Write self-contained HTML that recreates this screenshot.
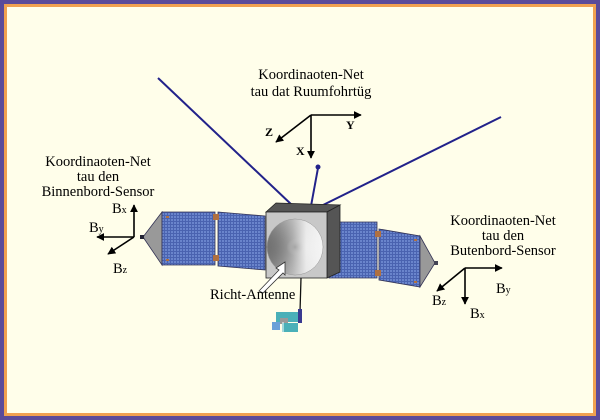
<!DOCTYPE html>
<html><head><style>
html,body{margin:0;padding:0;width:600px;height:420px;overflow:hidden;background:#fffeea}
</style></head><body>
<svg width="600" height="420" viewBox="0 0 600 420" xmlns="http://www.w3.org/2000/svg" font-family="Liberation Serif, serif" font-size="14.5" fill="#000">
<defs>
<marker id="a" viewBox="0 0 10 10" refX="9" refY="5" markerWidth="5" markerHeight="5" orient="auto"><path d="M0,0L10,5L0,10z" fill="#000"/></marker>
<pattern id="cells" width="3" height="3" patternUnits="userSpaceOnUse"><rect width="3" height="3" fill="#4a63b0"/><rect width="2" height="2" fill="#6a85cc"/></pattern>
<linearGradient id="dl" x1="0" y1="0.5" x2="1" y2="0.5"><stop offset="0" stop-color="#444"/><stop offset="0.45" stop-color="#aaa"/><stop offset="0.7" stop-color="#eee"/><stop offset="1" stop-color="#fff"/></linearGradient>
<radialGradient id="dg" cx="0.5" cy="0.5" r="0.5"><stop offset="0" stop-color="#999" stop-opacity="0.6"/><stop offset="0.3" stop-color="#ccc" stop-opacity="0"/><stop offset="1" stop-color="#ddd" stop-opacity="0.3"/></radialGradient>
</defs>
<rect x="0" y="0" width="600" height="420" fill="#5b4a9a"/>
<rect x="4" y="4" width="592" height="412" fill="#f0a050"/>
<rect x="7" y="7" width="586" height="406" fill="#fffeea"/>

<g stroke="#000" stroke-width="1.6" fill="none" marker-end="url(#a)">
<line x1="311" y1="115" x2="361" y2="115"/><line x1="311" y1="115" x2="311" y2="158"/><line x1="311" y1="115" x2="276" y2="142"/>
<line x1="134" y1="237" x2="134" y2="205"/><line x1="134" y1="237" x2="97" y2="237"/><line x1="134" y1="237" x2="108" y2="254"/>
<line x1="465" y1="268" x2="502" y2="268"/><line x1="465" y1="268" x2="465" y2="304"/><line x1="465" y1="268" x2="437" y2="291"/>
</g>
<g font-weight="bold" font-size="12"><text x="346" y="129">Y</text><text x="296" y="155">X</text><text x="265" y="136">Z</text></g>

<text x="311" y="79" text-anchor="middle">Koordinaoten-Net</text>
<text x="311" y="96" text-anchor="middle">tau dat Ruumfohrtüg</text>
<text x="98" y="166" text-anchor="middle">Koordinaoten-Net</text>
<text x="98" y="181" text-anchor="middle">tau den</text>
<text x="98" y="196" text-anchor="middle">Binnenbord-Sensor</text>
<text x="503" y="225" text-anchor="middle">Koordinaoten-Net</text>
<text x="503" y="240" text-anchor="middle">tau den</text>
<text x="503" y="255" text-anchor="middle">Butenbord-Sensor</text>
<text x="112" y="213">B<tspan font-size="10">x</tspan></text>
<text x="89" y="232">B<tspan font-size="10">y</tspan></text>
<text x="113" y="273">B<tspan font-size="10">z</tspan></text>
<text x="496" y="293">B<tspan font-size="10">y</tspan></text>
<text x="432" y="305">B<tspan font-size="10">z</tspan></text>
<text x="470" y="318">B<tspan font-size="10">x</tspan></text>

<g stroke="#22228a" stroke-width="2"><line x1="158" y1="78" x2="293" y2="206"/><line x1="501" y1="117" x2="317" y2="208"/><line x1="318" y1="168" x2="311" y2="206"/></g>
<circle cx="318" cy="167" r="2.5" fill="#22228a"/>

<polygon points="162,212 143,237 162,265" fill="#999" stroke="#335" stroke-width="0.8"/>
<rect x="140" y="235" width="4" height="4" fill="#223"/>
<polygon points="162,212 215,212 215,265 162,265" fill="url(#cells)" stroke="#335" stroke-width="0.8"/>
<polygon points="218,212 265,216 265,270 218,266" fill="url(#cells)" stroke="#335" stroke-width="0.8"/>
<g fill="#b07040"><rect x="213" y="214" width="6" height="6"/><rect x="213" y="255" width="6" height="6"/><rect x="166" y="216" width="3" height="2"/><rect x="166" y="259" width="3" height="2"/></g>
<polygon points="329,222 377,222 377,278 329,278" fill="url(#cells)" stroke="#335" stroke-width="0.8"/>
<polygon points="379,229 420,236 420,287 379,280" fill="url(#cells)" stroke="#335" stroke-width="0.8"/>
<polygon points="420,236 435,263 420,287" fill="#999" stroke="#335" stroke-width="0.8"/>
<rect x="434" y="261" width="4" height="4" fill="#445"/>
<g fill="#b07040"><rect x="375" y="231" width="6" height="6"/><rect x="375" y="270" width="6" height="6"/><rect x="414" y="239" width="3" height="2"/><rect x="414" y="281" width="3" height="2"/></g>

<polygon points="266,212 276,203 340,205 327,212" fill="#555" stroke="#222" stroke-width="0.8"/>
<polygon points="327,212 340,205 340,272 327,278" fill="#555" stroke="#222" stroke-width="0.8"/>
<rect x="266" y="212" width="61" height="66" fill="#c8c8c8" stroke="#222" stroke-width="0.8"/>
<circle cx="295" cy="247" r="28" fill="url(#dl)" stroke="#888" stroke-width="0.5"/>
<circle cx="295" cy="247" r="28" fill="url(#dg)"/>
<polygon points="285,262 276,268 279,270 259,291 263,293 283,273 285,275" fill="#fff" stroke="#333" stroke-width="0.8"/>
<text x="210" y="299">Richt-Antenne</text>

<line x1="301" y1="278" x2="300" y2="312" stroke="#111" stroke-width="1.3"/>
<g>
<rect x="276" y="312" width="22" height="10" fill="#4ab0b8"/>
<rect x="280" y="318" width="8" height="6" fill="#999"/>
<rect x="298" y="309" width="4" height="14" fill="#3a3a90"/>
<rect x="272" y="322" width="8" height="8" fill="#6aa0d8"/>
<rect x="282" y="323" width="16" height="9" fill="#4ab0b8"/>
<line x1="283" y1="322" x2="283" y2="336" stroke="#fff" stroke-width="1"/>
</g>
</svg>
</body></html>
